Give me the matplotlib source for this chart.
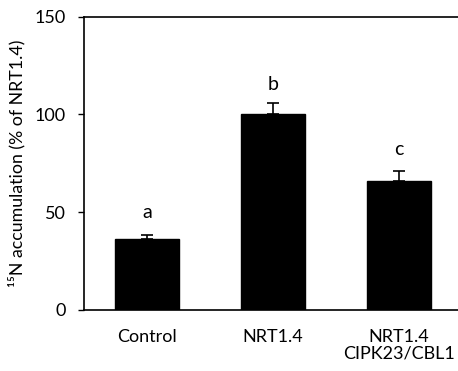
import matplotlib
matplotlib.use("Agg")
import matplotlib.pyplot as plt

plt.rcParams['font.family'] = ['Lato', 'DejaVu Sans']

groups = ["Control", "NRT1.4", "NRT1.4\nCIPK23/CBL1"]
values = [36.5, 100.0, 66.0]
errors = [1.7, 5.6, 5.0]
letters = ["a", "b", "c"]
letter_y = [50, 115, 82]

fig = plt.figure(figsize=(4.58, 3.71), dpi=100)
ax = fig.add_axes([84 / 458, 61 / 371, 374 / 458, 293.5 / 371])

x = range(len(groups))
ax.bar(x, values, width=0.51, color="black", edgecolor="black")
ax.errorbar(x, values, yerr=[[0] * 3, errors], fmt="none", ecolor="black",
            elinewidth=1.2, capsize=4, capthick=1.2)
for i, t in enumerate(letters):
    ax.text(i, letter_y[i], t, ha="center", va="center", fontsize=14)

ax.set_xlim(-0.5, 2.47)
ax.set_ylim(0, 150)
ax.set_yticks([0, 50, 100, 150])
ax.set_xticks(list(x))
ax.set_xticklabels(groups, fontsize=13, linespacing=1.0)
ax.tick_params(axis="x", length=0, pad=14)
ax.tick_params(axis="y", length=4, width=1, labelsize=13, direction="out", pad=9)
ax.set_ylabel("¹⁵N accumulation (% of NRT1.4)", fontsize=12.8, labelpad=7)

for s in ["left", "top", "bottom"]:
    ax.spines[s].set_linewidth(1.2)
ax.spines["right"].set_visible(False)

fig.savefig("out.png", dpi=100)
